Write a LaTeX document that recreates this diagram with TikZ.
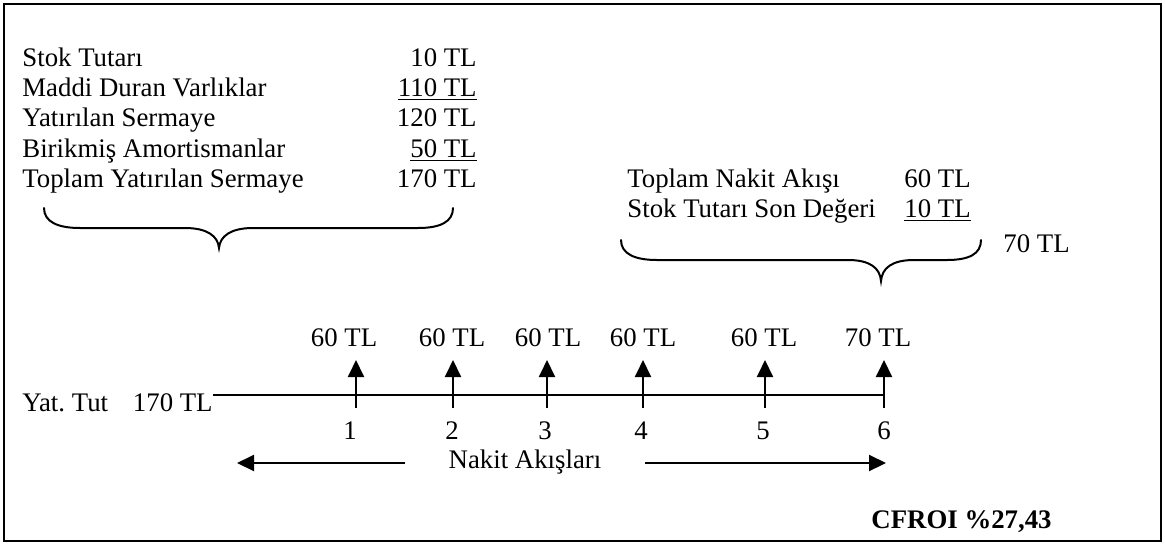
\documentclass[tikz,border=0pt]{standalone}
\usepackage{fontspec}
\setmainfont{Liberation Serif}
\usetikzlibrary{arrows.meta,positioning}

\tikzset{
  txt/.style={font=\fontsize{13.4}{15}\selectfont,inner sep=0pt},
  flow/.style={line width=1pt,-{Triangle[length=8.5pt,width=8pt]}},
  brace/.style={line width=1pt,line cap=round},
}

\begin{document}
\frenchspacing
\begin{tikzpicture}[x=0.5pt,y=-0.5pt]
\useasboundingbox (0,0) rectangle (1165,546);
\draw[line width=1.4pt] (4,4) rectangle (1161,541);
% invested capital
\node[txt,anchor=base west] (stok)  at (22,66)  {Stok Tutarı};
\node[txt,anchor=base west] (maddi) at (22,96)  {Maddi Duran Varlıklar};
\node[txt,anchor=base west] (yat)   at (22,126) {Yatırılan Sermaye};
\node[txt,anchor=base west] (amort) at (22,157) {Birikmiş Amortismanlar};
\node[txt,anchor=base west] (top)   at (22,187) {Toplam Yatırılan Sermaye};
\node[txt,anchor=base east] (stokv)  at (477,66)  {10 TL};
\node[txt,anchor=base east] (maddiv) at (477,96)  {\underline{110 TL}};
\node[txt,anchor=base east] (yatv)   at (477,126) {120 TL};
\node[txt,anchor=base east] (amortv) at (477,157) {\underline{50 TL}};
\node[txt,anchor=base east] (topv)   at (477,187) {170 TL};
\draw[brace] (44,208) .. controls (44,222) and (58,228) .. (80,228) -- (185,228)
  .. controls (207,228) and (218,236) .. (219,248)
  .. controls (220,236) and (231,228) .. (253,228) -- (418,228)
  .. controls (440,228) and (453,222) .. (453,208);
% last year cash flow
\node[txt,anchor=base west] (nakit) at (627,187) {Toplam Nakit Akışı};
\node[txt,anchor=base west] (son)   at (627,217) {Stok Tutarı Son Değeri};
\node[txt,anchor=base west] (nakitv) at (904,187) {60 TL};
\node[txt,anchor=base west] (sonv)   at (904,217) {\underline{10 TL}};
\node[txt,anchor=base west] (sum)    at (1003,252) {70 TL};
\draw[brace] (621,240) .. controls (621,254) and (635,260) .. (657,260) -- (848,260)
  .. controls (870,260) and (880,268) .. (881,281)
  .. controls (882,268) and (892,260) .. (914,260) -- (947,260)
  .. controls (969,260) and (981,254) .. (981,240);
% time line
\node[txt,anchor=base west] (yattut) at (22,411) {Yat. Tut};
\node[txt,anchor=base east] (yatt)   at (213,411) {170 TL};
\coordinate (t0) at (213,395);
\coordinate (t6) at (884,395);
\draw[line width=1pt] (t0)--(t6);
\coordinate (b1) at (356,408);\coordinate (a1) at (356,360);
\coordinate (b2) at (453,408);\coordinate (a2) at (453,360);
\coordinate (b3) at (547,408);\coordinate (a3) at (547,360);
\coordinate (b4) at (643,408);\coordinate (a4) at (643,360);
\coordinate (b5) at (765,408);\coordinate (a5) at (765,360);
\coordinate (b6) at (884,396);\coordinate (a6) at (884,360);
\draw[flow] (b1)--(a1);
\draw[flow] (b2)--(a2);
\draw[flow] (b3)--(a3);
\draw[flow] (b4)--(a4);
\draw[flow] (b5)--(a5);
\draw[flow] (b6)--(a6);
\draw[line width=1pt] (t6)--(884,408);
\node[txt,anchor=base] (cf1) at (344,346) {60 TL};
\node[txt,anchor=base] (cf2) at (452,346) {60 TL};
\node[txt,anchor=base] (cf3) at (548,346) {60 TL};
\node[txt,anchor=base] (cf4) at (643,346) {60 TL};
\node[txt,anchor=base] (cf5) at (764,346) {60 TL};
\node[txt,anchor=base] (cf6) at (878,346) {70 TL};
\node[txt,anchor=base] (n1) at (350,439) {1};
\node[txt,anchor=base] (n2) at (452,439) {2};
\node[txt,anchor=base] (n3) at (545,439) {3};
\node[txt,anchor=base] (n4) at (641,439) {4};
\node[txt,anchor=base] (n5) at (763,439) {5};
\node[txt,anchor=base] (n6) at (884,439) {6};
\node[txt,anchor=base] (akis) at (525,468) {Nakit Akışları};
\coordinate (l0) at (405,463);\coordinate (l1) at (237,463);
\coordinate (r0) at (645,463);\coordinate (r1) at (886,463);
\draw[flow] (l0)--(l1);
\draw[flow] (r0)--(r1);
\node[txt,anchor=base east,font=\fontsize{13.4}{15}\selectfont\bfseries] (cfroi) at (1052,528) {CFROI \%27,43};
\end{tikzpicture}
\end{document}
